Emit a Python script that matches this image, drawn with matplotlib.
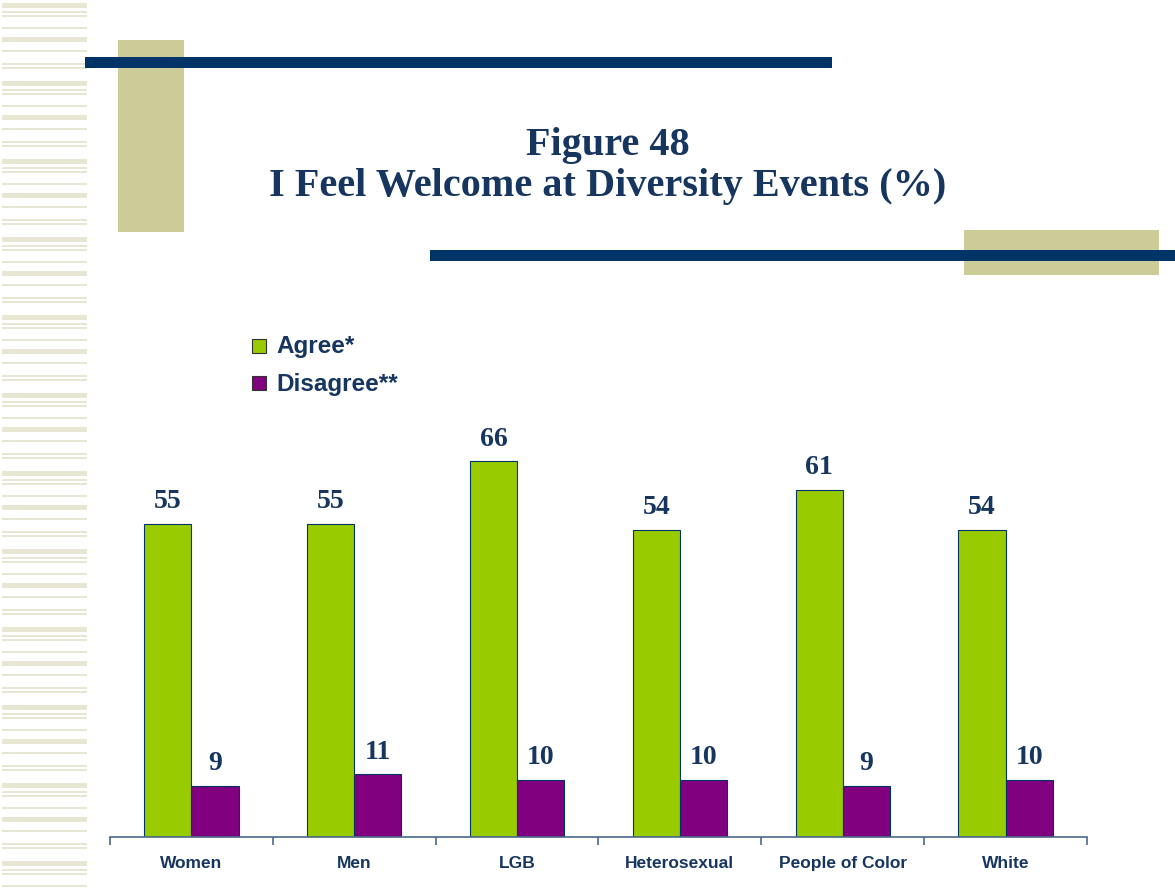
import matplotlib.pyplot as plt
from matplotlib.patches import Rectangle

categories = ["Women", "Men", "LGB", "Heterosexual", "People of Color", "White"]
agree = [55, 55, 66, 54, 61, 54]
disagree = [9, 11, 10, 10, 9, 10]
series_names = ["Agree*", "Disagree**"]

NAVY = "#003366"
TEXT = "#16365F"
KHAKI = "#CCCC99"
GREEN = "#99CC00"
PURPLE = "#800080"

W, H = 1175, 892
fig = plt.figure(figsize=(W / 100, H / 100), dpi=100)

# background layer in pixel units (origin top-left) for the slide decoration
bg = fig.add_axes([0, 0, 1, 1], zorder=0)
bg.set_xlim(0, W)
bg.set_ylim(H, 0)
bg.axis("off")

# striped left margin
stripe = [(3, 5), (11, 1.5), (15, 1.5), (27, 1.5), (37, 5), (50, 2), (63, 1.5), (67, 1.5)]
y0 = 0
while y0 < H:
    for dy, h in stripe:
        if y0 + dy < H - 2:
            bg.add_patch(Rectangle((2, y0 + dy), 85, h, color="#E6E6D3", lw=0))
    y0 += 78

bg.add_patch(Rectangle((118, 40), 66, 192, color=KHAKI, lw=0))
bg.add_patch(Rectangle((964, 230), 195, 45, color=KHAKI, lw=0))
bg.add_patch(Rectangle((85, 57), 747, 11, color=NAVY, lw=0))
bg.add_patch(Rectangle((430, 250), 745, 11, color=NAVY, lw=0))

bg.text(608, 155, "Figure 48", ha="center", va="baseline", fontsize=29,
        fontweight="bold", family="Liberation Serif", color=TEXT)
bg.text(608, 196, "I Feel Welcome at Diversity Events (%)", ha="center", va="baseline",
        fontsize=29, fontweight="bold", family="Liberation Serif", color=TEXT)

# legend
for i, (name, col) in enumerate(zip(series_names, [GREEN, PURPLE])):
    yy = 339 + i * 37
    bg.add_patch(Rectangle((252, yy), 14, 14, facecolor=col, edgecolor="#333333", lw=0.8))
    bg.text(276, yy + 8, name, va="center", ha="left", fontsize=17.5, fontweight="bold",
            family="Liberation Sans", color=TEXT)

# main chart
ax = fig.add_axes([110 / W, (H - 837) / H, 977 / W, 437 / H], zorder=1)
ax.patch.set_alpha(0)
x = range(len(categories))
bw = 0.29
b1 = ax.bar([i - bw / 2 for i in x], agree, bw, color=GREEN, edgecolor=NAVY, linewidth=0.8)
b2 = ax.bar([i + bw / 2 for i in x], disagree, bw, color=PURPLE, edgecolor=NAVY, linewidth=0.8)
for bars, vals in [(b1, agree), (b2, disagree)]:
    for b, v in zip(bars, vals):
        ax.annotate(str(v), (b.get_x() + b.get_width() / 2, v), xytext=(0, 7),
                    textcoords="offset points", ha="center", va="bottom", fontsize=20,
                    fontweight="bold", family="Liberation Serif", color=TEXT)

ax.set_xlim(-0.5, len(categories) - 0.5)
ax.set_ylim(0, 437 / 5.69)
for s in ["top", "right", "left"]:
    ax.spines[s].set_visible(False)
ax.spines["bottom"].set_color("#4A6A8A")
ax.spines["bottom"].set_linewidth(1.2)
ax.set_yticks([])
ax.set_xticks([i - 0.5 for i in range(len(categories) + 1)])
ax.set_xticklabels([])
ax.tick_params(axis="x", direction="out", length=6, width=1.2, color="#4A6A8A")
for i, c in enumerate(categories):
    ax.text(i, -31 / 437, c, transform=ax.get_xaxis_transform(), ha="center", va="baseline",
            fontsize=12.5, fontweight="bold", family="Liberation Sans", color=TEXT)

fig.savefig("out.png", dpi=100)
